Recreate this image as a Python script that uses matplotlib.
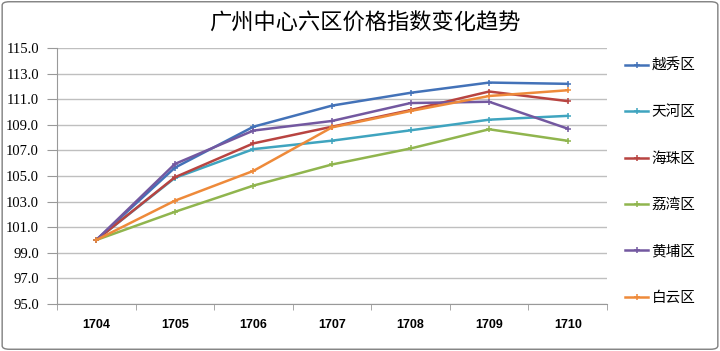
import matplotlib
import matplotlib.pyplot as plt
import matplotlib.patches as mpatches
import numpy as np

matplotlib.rcParams['font.family'] = ['Liberation Sans', 'Noto Sans CJK SC', 'DejaVu Sans']

months = ['1704', '1705', '1706', '1707', '1708', '1709', '1710']
districts = ['越秀区', '天河区', '海珠区', '荔湾区', '黄埔区', '白云区']
yuexiu = [100.0, 105.65, 108.85, 110.5, 111.5, 112.3, 112.2]
tianhe = [100.0, 104.85, 107.1, 107.76, 108.57, 109.4, 109.7]
haizhu = [100.0, 104.9, 107.55, 108.85, 110.15, 111.6, 110.85]
liwan = [100.0, 102.2, 104.25, 105.9, 107.15, 108.65, 107.75]
huangpu = [100.0, 105.94, 108.55, 109.3, 110.7, 110.8, 108.7]
baiyun = [100.0, 103.07, 105.4, 108.8, 110.08, 111.25, 111.7]
series = [yuexiu, tianhe, haizhu, liwan, huangpu, baiyun]
colors = ['#4372B8', '#3FA4BF', '#B84441', '#90B54E', '#7358A0', '#EE8A3A']

fig = plt.figure(figsize=(7.2, 3.51), dpi=100)
ax = fig.add_axes([57/720, 47/351, 550/720, 256/351])

x = np.arange(len(months))
for vals, c, name in zip(series, colors, districts):
    ax.plot(x, vals, color=c, linewidth=1.8, marker='+', markersize=4,
            markeredgewidth=1.1, label=name)

ax.set_xlim(-0.5, len(months) - 0.5)
ax.set_ylim(95, 115)
ax.set_yticks(np.arange(95, 115.1, 2))
ax.set_yticklabels([f'{v:.1f}' for v in np.arange(95, 115.1, 2)],
                   fontsize=10.5, family='Liberation Serif')
ax.set_xticks(x)
ax.set_xticklabels(months, fontsize=9, fontweight='bold')
ax.tick_params(axis='x', length=0, pad=11)
ax.set_xticks(np.arange(-0.5, len(months)), minor=True)
ax.tick_params(axis='x', which='minor', length=4, color='#999999', direction='out')
ax.tick_params(axis='y', length=7, color='#999999', direction='out', pad=6)
ax.grid(axis='y', color='#BFBFBF', linewidth=1)
ax.set_axisbelow(True)
for s in ['top', 'right']:
    ax.spines[s].set_visible(False)
ax.spines['left'].set_color('#999999')
ax.spines['bottom'].set_color('#999999')

fig.text(0.507, 0.935, '广州中心六区价格指数变化趋势', ha='center', va='center',
         fontsize=16, family=['Noto Sans CJK SC', 'DejaVu Sans'])

handles, labels = ax.get_legend_handles_labels()
fig.legend(handles, labels, loc='upper left', bbox_to_anchor=(612/720, 0.87),
           frameon=False, handlelength=1.6, handletextpad=0.2,
           labelspacing=2.22, prop={'family': ['Noto Sans CJK SC'], 'size': 10.5})

border = mpatches.FancyBboxPatch((0.003, 0.005), 0.994, 0.99,
                                 boxstyle='round,pad=0,rounding_size=0.01',
                                 transform=fig.transFigure, fill=False,
                                 edgecolor='#7F7F7F', linewidth=1)
fig.patches.append(border)

plt.savefig('out.png', dpi=100)
plt.close()
